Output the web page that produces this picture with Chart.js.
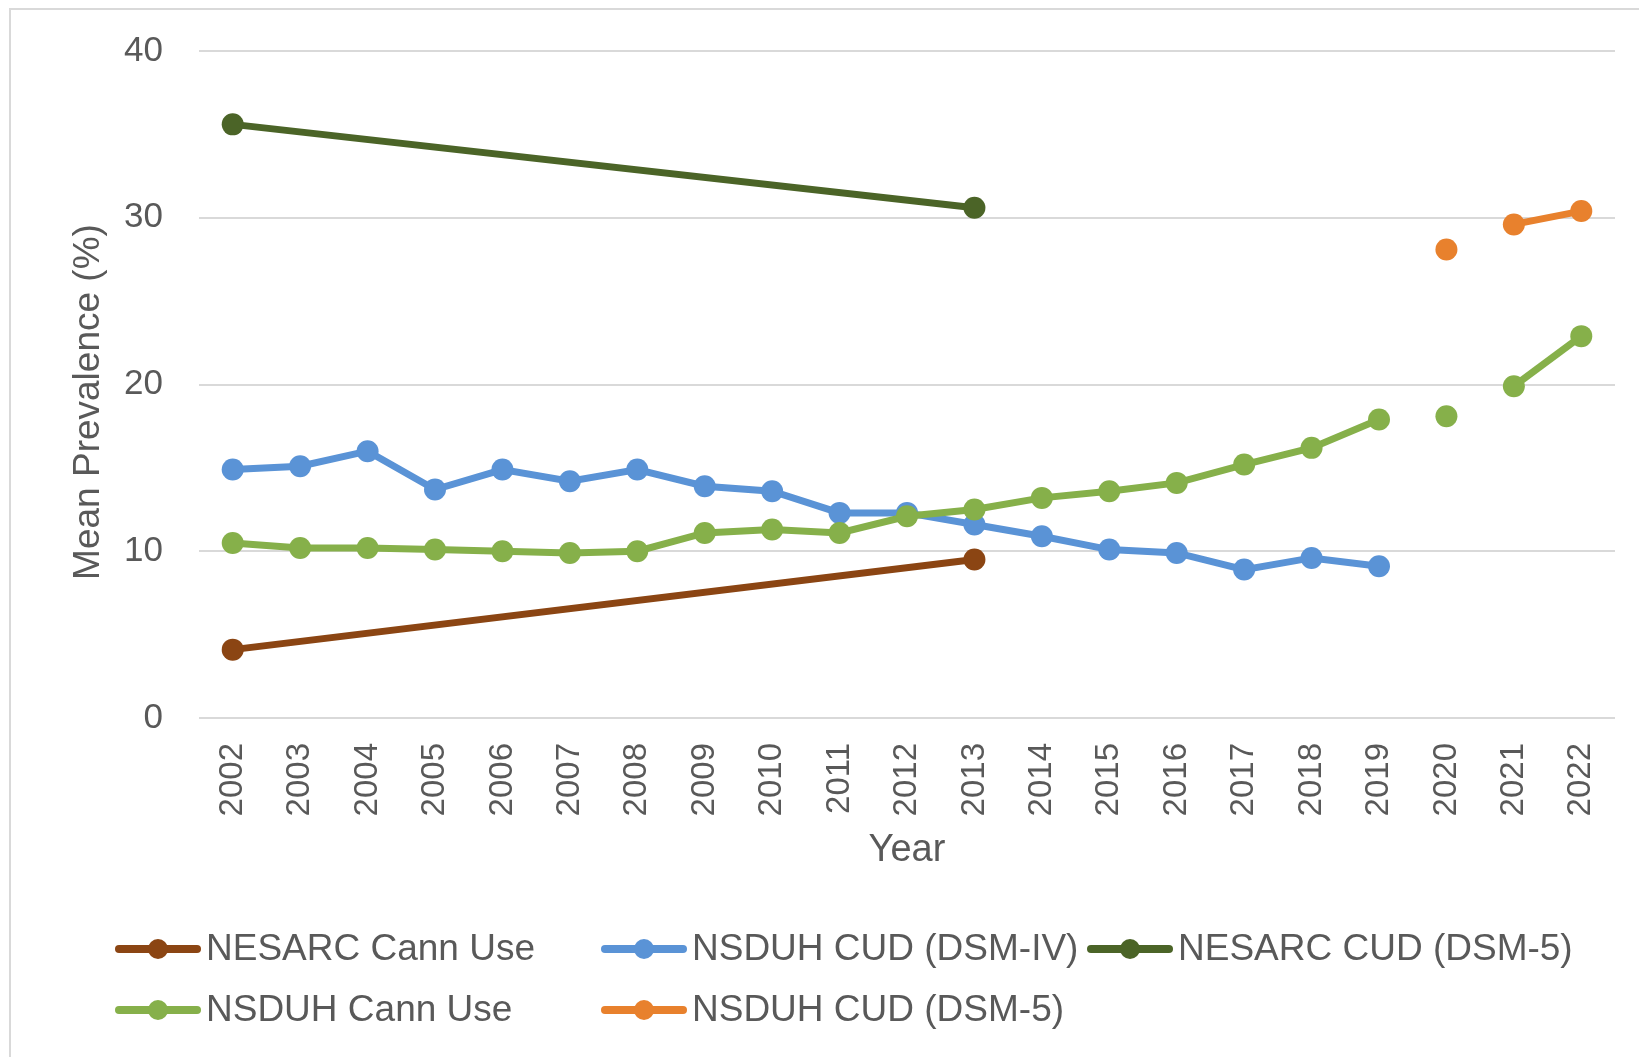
<!DOCTYPE html>
<html lang="en">
<head>
  <meta charset="UTF-8">
  <title>Mean Prevalence by Year</title>
  <script src="https://cdn.jsdelivr.net/npm/chart.js"></script>
  <style>
    html, body { margin: 0; padding: 0; background: #fff; }
    canvas { display: block; }
  </style>
</head>
<body>
  <canvas id="chart" width="1639" height="1057"></canvas>
  <script>
    // data
    const years = ['2002','2003','2004','2005','2006','2007','2008','2009','2010','2011','2012',
                   '2013','2014','2015','2016','2017','2018','2019','2020','2021','2022'];
    const nesarcCannUse = [4.1, null, null, null, null, null, null, null, null, null, null,
                           9.5, null, null, null, null, null, null, null, null, null];
    const nsduhCudDsm4 = [14.9, 15.1, 16.0, 13.7, 14.9, 14.2, 14.9, 13.9, 13.6, 12.3, 12.3,
                          11.6, 10.9, 10.1, 9.9, 8.9, 9.6, 9.1, null, null, null];
    const nesarcCudDsm5 = [35.6, null, null, null, null, null, null, null, null, null, null,
                           30.6, null, null, null, null, null, null, null, null, null];
    const nsduhCannUse = [10.5, 10.2, 10.2, 10.1, 10.0, 9.9, 10.0, 11.1, 11.3, 11.1, 12.1,
                          12.5, 13.2, 13.6, 14.1, 15.2, 16.2, 17.9, 18.1, 19.9, 22.9];
    const nsduhCudDsm5 = [null, null, null, null, null, null, null, null, null, null, null,
                          null, null, null, null, null, null, null, 28.1, 29.6, 30.4];
    // 2020 was a separate survey wave: not joined to its neighbours
    const breakYears = ['2020'];
    const yTicks = [0, 10, 20, 30, 40];
    const yTitle = 'Mean Prevalence (%)';

    const FONT = "'Liberation Sans', Arial, sans-serif";
    const TEXT = '#595959';

    const breakIdx = breakYears.map(y => years.indexOf(y));
    const hideBreak = ctx =>
      (breakIdx.includes(ctx.p0DataIndex) || breakIdx.includes(ctx.p1DataIndex)) ? 'rgba(0,0,0,0)' : undefined;

    function series(label, data, color, span) {
      return {
        label, data,
        borderColor: color,
        backgroundColor: color,
        pointBackgroundColor: color,
        pointBorderColor: color,
        borderWidth: 7,
        pointRadius: 11,
        pointHoverRadius: 11,
        pointBorderWidth: 0,
        spanGaps: span,
        tension: 0,
        segment: { borderColor: hideBreak }
      };
    }

    const datasets = [
      series('NESARC Cann Use', nesarcCannUse, '#8B4513', true),
      series('NSDUH CUD (DSM-IV)', nsduhCudDsm4, '#5A93D6', false),
      series('NESARC CUD (DSM-5)', nesarcCudDsm5, '#4B6427', true),
      series('NSDUH Cann Use', nsduhCannUse, '#86B04A', false),
      series('NSDUH CUD (DSM-5)', nsduhCudDsm5, '#E8812D', false)
    ];
    // later series on top, like the original
    datasets.forEach((d, i) => { d.order = datasets.length - i; });

    // frame, y title and two-row legend, drawn on the canvas
    const legendSlots = [
      { x: 115, y: 949 }, { x: 601, y: 949 }, { x: 1087, y: 949 },
      { x: 115, y: 1010 }, { x: 601, y: 1010 }
    ];
    const framePlugin = {
      id: 'frame',
      beforeDraw(chart) {
        const c = chart.ctx;
        c.save();
        c.fillStyle = '#fff';
        c.fillRect(0, 0, chart.width, chart.height);
        c.strokeStyle = '#d9d9d9';
        c.lineWidth = 2;
        c.strokeRect(10, 9, chart.width + 20, chart.height + 20);
        c.restore();
      },
      afterDraw(chart) {
        const c = chart.ctx;
        c.save();
        // y axis title sits a little below the plot's middle in the original
        c.font = '37px ' + FONT;
        c.fillStyle = TEXT;
        c.textAlign = 'center';
        c.textBaseline = 'middle';
        c.translate(89, 402);
        c.rotate(-Math.PI / 2);
        c.fillText(yTitle, 0, 0);
        c.restore();

        c.save();
        c.font = '37px ' + FONT;
        c.textBaseline = 'middle';
        chart.data.datasets.forEach((ds, i) => {
          const s = legendSlots[i];
          c.strokeStyle = ds.borderColor;
          c.lineWidth = 8;
          c.lineCap = 'round';
          c.beginPath();
          c.moveTo(s.x + 4, s.y);
          c.lineTo(s.x + 82, s.y);
          c.stroke();
          c.fillStyle = ds.borderColor;
          c.beginPath();
          c.arc(s.x + 43, s.y, 10, 0, Math.PI * 2);
          c.fill();
          c.fillStyle = TEXT;
          c.fillText(ds.label, s.x + 91, s.y + 1);
        });
        c.restore();
      }
    };

    new Chart(document.getElementById('chart'), {
      type: 'line',
      data: { labels: years, datasets },
      plugins: [framePlugin],
      options: {
        responsive: false,
        animation: false,
        devicePixelRatio: 1,
        layout: { padding: { top: 51, right: 24, bottom: 179, left: 0 } },
        plugins: {
          legend: { display: false },
          tooltip: { enabled: false }
        },
        scales: {
          x: {
            offset: true,
            grid: { display: false, drawTicks: false },
            border: { display: false },
            ticks: {
              color: TEXT,
              font: { family: FONT, size: 33 },
              minRotation: 90,
              maxRotation: 90,
              autoSkip: false,
              padding: 25
            },
            title: {
              display: true,
              text: 'Year',
              color: TEXT,
              font: { family: FONT, size: 38 },
              padding: { top: 0, bottom: 5 }
            },
            afterFit(scale) {
              scale.height = 160;
              scale.paddingLeft = 0;
              scale.paddingRight = 0;
            }
          },
          y: {
            min: 0,
            max: 40,
            afterBuildTicks(scale) { scale.ticks = yTicks.map(v => ({ value: v })); },
            grid: { color: '#d9d9d9', lineWidth: 2, drawTicks: false },
            border: { display: false },
            ticks: {
              color: TEXT,
              font: { family: FONT, size: 35 },
              padding: 36
            },
            afterFit(scale) {
              scale.width = 199;
              scale.paddingTop = 21;
              scale.paddingBottom = 21;
            }
          }
        }
      }
    });
  </script>
</body>
</html>
